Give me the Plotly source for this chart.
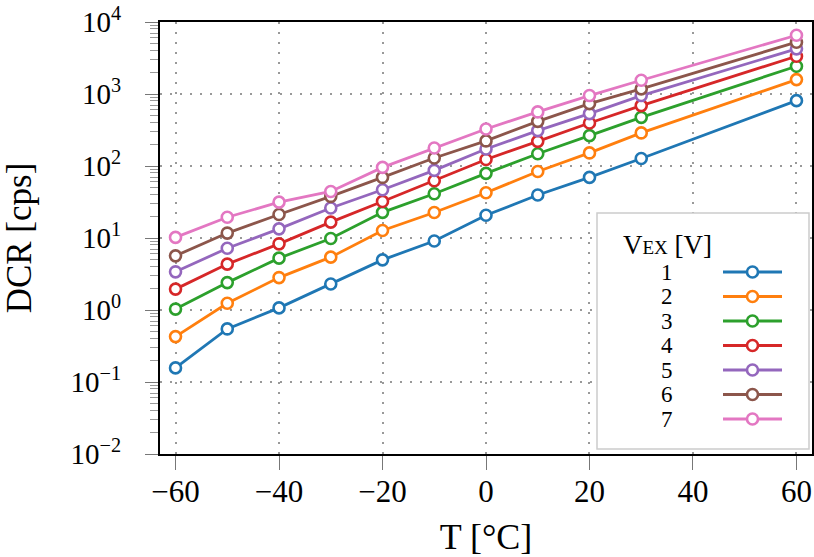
import plotly.graph_objects as go

temps = [-60, -50, -40, -30, -20, -10, 0, 10, 20, 30, 60]
v_ex_labels = ["1", "2", "3", "4", "5", "6", "7"]
dcr_v1 = [0.157, 0.546, 1.07, 2.3, 4.97, 9.1, 20.7, 39.5, 69.5, 127, 809]
dcr_v2 = [0.427, 1.24, 2.82, 5.42, 12.7, 22.6, 42.5, 84, 152, 288, 1585]
dcr_v3 = [1.03, 2.40, 5.25, 9.84, 22.7, 41.2, 79, 148, 264, 474, 2430]
dcr_v4 = [1.95, 4.34, 8.3, 16.6, 32.2, 62.5, 123, 220, 396, 690, 3345]
dcr_v5 = [3.39, 7.2, 13.4, 26.1, 46.8, 86.9, 172, 310, 534, 951, 4240]
dcr_v6 = [5.65, 11.7, 21.2, 37.8, 69.4, 129, 223, 417, 735, 1178, 5240]
dcr_v7 = [10.2, 19.4, 31.5, 44.3, 95.7, 178, 327, 564, 951, 1552, 6550]
series = [dcr_v1, dcr_v2, dcr_v3, dcr_v4, dcr_v5, dcr_v6, dcr_v7]
colors = ["#1f77b4", "#ff7f0e", "#2ca02c", "#d62728", "#9467bd", "#8c564b", "#e377c2"]

x_ticks = [-60, -40, -20, 0, 20, 40, 60]
x_ticktext = ["\u221260", "\u221240", "\u221220", "0", "20", "40", "60"]
y_ticks = [1e-2, 1e-1, 1e0, 1e1, 1e2, 1e3, 1e4]
y_ticktext = ["10<sup>\u22122</sup>", "10<sup>\u22121</sup>", "10<sup>0</sup>", "10<sup>1</sup>",
              "10<sup>2</sup>", "10<sup>3</sup>", "10<sup>4</sup>"]

FONT = "Liberation Serif"
FIG_W, FIG_H = 814, 557

fig = go.Figure()
for lab, ys, c in zip(v_ex_labels, series, colors):
    fig.add_trace(go.Scatter(
        x=temps, y=ys, mode="lines+markers", name=lab,
        line=dict(color=c, width=2.8),
        marker=dict(symbol="circle", size=11, color="white", line=dict(color=c, width=2.6)),
        showlegend=False, hoverinfo="skip",
    ))

# plot area in screen pixels
L, R, T, B = 160, 812, 22, 454
W, H = R - L, B - T
def px(xp):
    return (xp - L) / W
def py(yp):
    return (B - yp) / H

shapes = [dict(type="rect", xref="paper", yref="paper",
               x0=px(597), x1=px(809), y0=py(213), y1=py(449),
               fillcolor="white", line=dict(color="#cccccc", width=1.5), layer="above")]
annotations = [dict(xref="paper", yref="paper", x=px(667), y=py(245),
                    text="V<span style='font-size:19px'>EX</span> [V]", showarrow=False,
                    font=dict(family=FONT, size=27, color="black"), xanchor="center", yanchor="middle")]
row_y = [272, 296.5, 321, 345.5, 370, 394.5, 419]
for lab, c, yy in zip(v_ex_labels, colors, row_y):
    annotations.append(dict(xref="paper", yref="paper", x=px(667), y=py(yy), text=lab, showarrow=False,
                            font=dict(family=FONT, size=23, color="black"),
                            xanchor="center", yanchor="middle"))
    shapes.append(dict(type="line", xref="paper", yref="paper", x0=px(723), x1=px(782),
                       y0=py(yy), y1=py(yy), line=dict(color=c, width=2.8), layer="above"))
    shapes.append(dict(type="circle", xref="paper", yref="paper", xsizemode="pixel", ysizemode="pixel",
                       xanchor=px(752.5), yanchor=py(yy), x0=-5.5, x1=5.5, y0=-5.5, y1=5.5,
                       fillcolor="white", line=dict(color=c, width=2.6), layer="above"))

fig.update_layout(
    width=FIG_W, height=FIG_H,
    margin=dict(l=L, r=FIG_W - R, t=T, b=FIG_H - B),
    paper_bgcolor="white", plot_bgcolor="white",
    font=dict(family=FONT, size=30, color="black"),
    shapes=shapes, annotations=annotations,
    xaxis=dict(
        range=[-63, 63], tickvals=x_ticks, ticktext=x_ticktext, automargin=False,
        showline=True, mirror=True, linecolor="black", linewidth=2,
        ticks="outside", ticklen=14, tickcolor="#777777", tickwidth=1,
        showgrid=True, gridcolor="#999999", griddash="2px,8px", gridwidth=1.5,
        zeroline=False, ticklabelstandoff=-5, ticklabeloverflow="allow",
        tickfont=dict(family=FONT, size=31),
        title=dict(text="T [\u00b0C]", font=dict(family=FONT, size=36), standoff=20),
    ),
    yaxis=dict(
        type="log", range=[-2, 4], tickvals=y_ticks, ticktext=y_ticktext, automargin=False,
        showline=True, mirror=True, linecolor="black", linewidth=2,
        ticks="outside", ticklen=13, tickcolor="#777777", tickwidth=1,
        minor=dict(ticks="outside", ticklen=8, tickcolor="#999999", dtick="D1", showgrid=False),
        showgrid=True, gridcolor="#999999", griddash="2px,8px", gridwidth=1.5,
        zeroline=False, ticklabelstandoff=18, ticklabeloverflow="allow",
        tickfont=dict(family=FONT, size=29),
        title=dict(text="DCR [cps]", font=dict(family=FONT, size=35), standoff=45),
    ),
)

fig.write_html("out.html", config={"displayModeBar": False},
               post_script="document.body.style.margin='0';document.body.style.overflow='hidden';")
